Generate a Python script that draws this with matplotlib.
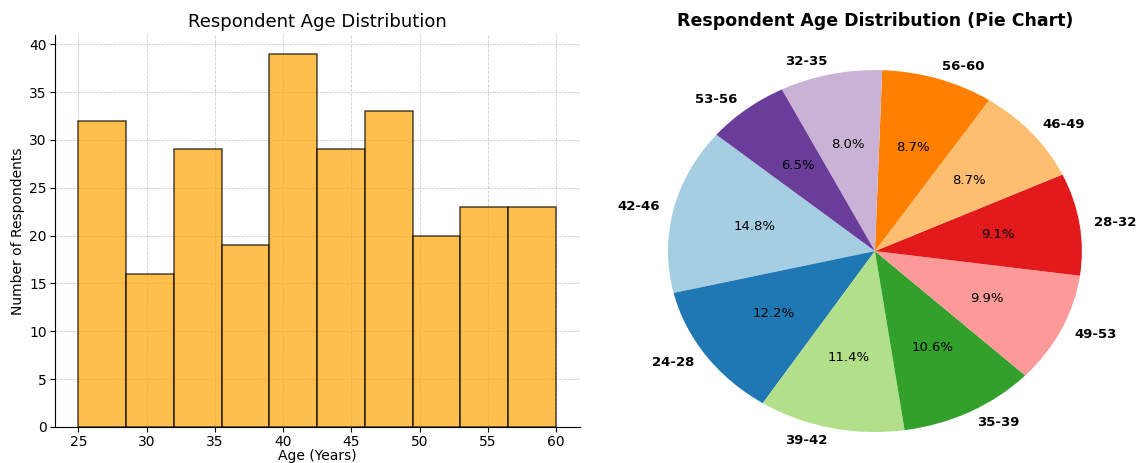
import matplotlib
matplotlib.use("Agg")
import matplotlib.pyplot as plt
import numpy as np

# Histogram data (bin edges and counts)
bin_edges = [25, 28.5, 32, 35.5, 39, 42.5, 46, 49.5, 53, 56.5, 60]
bin_counts = [32, 16, 29, 19, 39, 29, 33, 20, 23, 23]

# Pie data (age groups, respondents per group)
pie_labels = ["42-46", "24-28", "39-42", "35-39", "49-53",
              "28-32", "46-49", "56-60", "32-35", "53-56"]
pie_counts = [39, 32, 30, 28, 26, 24, 23, 23, 21, 17]

fig = plt.figure(figsize=(11.37, 4.63), dpi=100)

# Left: histogram
ax1 = fig.add_axes([0.048, 0.078, 0.462, 0.846])
edges = np.array(bin_edges)
ax1.bar(edges[:-1], bin_counts, width=np.diff(edges), align="edge",
        color="orange", alpha=0.7, edgecolor="black", linewidth=1.1, zorder=2)
ax1.grid(True, linestyle="--", linewidth=0.6, color="#cccccc", zorder=0)
ax1.set_axisbelow(True)
ax1.spines["top"].set_visible(False)
ax1.spines["right"].set_visible(False)
ax1.set_xticks([25, 30, 35, 40, 45, 50, 55, 60])
ax1.set_yticks(range(0, 41, 5))
ax1.tick_params(labelsize=10, pad=2)
ax1.set_xlabel("Age (Years)", fontsize=10, labelpad=0)
ax1.set_ylabel("Number of Respondents", fontsize=10, labelpad=3)
ax1.set_title("Respondent Age Distribution", fontsize=13, pad=6)

# Right: pie chart
ax2 = fig.add_axes([0.542, 0.0, 0.455, 0.935])
ax2.pie(pie_counts, labels=pie_labels, autopct="%1.1f%%", startangle=140,
        colors=plt.cm.Paired.colors,
        textprops={"fontsize": 9.5},
        labeldistance=1.07, pctdistance=0.6)
for t in ax2.texts:
    if "%" not in t.get_text():
        t.set_fontweight("bold")
        t.set_fontsize(9.5)
ax2.set_aspect("auto")
ax2.set_xlim(-1.25, 1.25)
ax2.set_ylim(-1.171, 1.221)
ax2.set_title("Respondent Age Distribution (Pie Chart)", fontsize=12.5,
              fontweight="bold", pad=2)

fig.savefig("out.png", dpi=100)
